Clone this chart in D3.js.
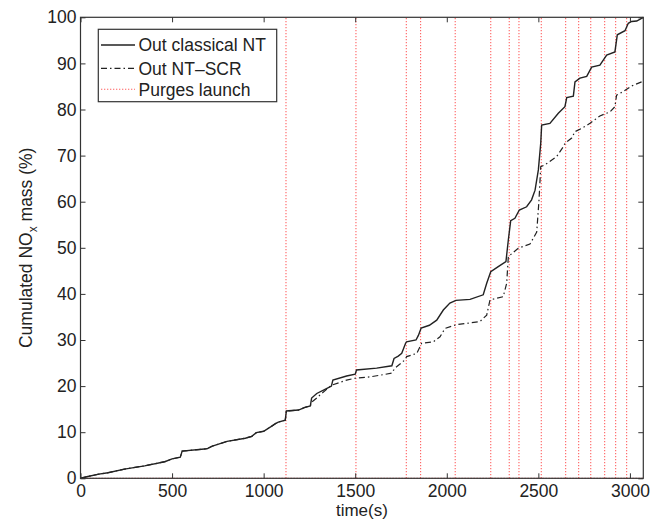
<!DOCTYPE html>
<html><head><meta charset="utf-8">
<script src="https://cdn.jsdelivr.net/npm/d3@7"></script>
<style>
body{margin:0;background:#fff;}
text{font-family:"Liberation Sans",Arial,Helvetica,sans-serif;fill:#222;}
</style></head>
<body><svg id="c" width="663" height="519"></svg>
<script>
// time (s) and cumulated NOx mass (%) — Out classical NT
const ntTime = [0,40,100,150,240,350,460,500,545,555,690,720,800,900,935,960,1000,1040,1062,1080,1118,1124,1190,1226,1255,1262,1290,1335,1370,1378,1453,1500,1507,1617,1700,1712,1735,1754,1775,1780,1832,1845,1860,1905,1945,1981,2017,2050,2127,2199,2218,2240,2281,2323,2336,2349,2372,2396,2436,2463,2482,2500,2513,2518,2563,2609,2645,2655,2691,2700,2727,2764,2791,2836,2873,2918,2931,2973,2991,3009,3037,3073];
const ntValue = [0,0.4,0.9,1.2,2.0,2.7,3.6,4.2,4.6,5.9,6.4,7.0,8.0,8.7,9.1,9.9,10.2,11.2,11.8,12.2,12.6,14.6,14.8,15.4,15.7,17.4,18.4,19.3,20.0,21.3,22.2,22.6,23.5,23.9,24.4,26.0,26.5,27.1,29.3,29.6,30.0,31.0,32.6,33.2,34.3,36.5,38.0,38.6,38.8,39.8,42.3,44.8,45.9,47.0,51.7,55.9,56.4,58.2,58.9,60.4,62.5,66.9,72.7,76.6,77.0,79.2,80.6,82.6,82.9,86.0,86.8,87.2,89.2,89.6,91.8,92.5,96.2,97.1,98.7,99.1,99.2,100];
// Out NT-SCR
const scrTime = [0,40,100,150,240,350,460,500,545,555,690,720,800,900,935,960,1000,1040,1062,1080,1118,1124,1190,1226,1255,1262,1290,1308,1371,1453,1499,1581,1699,1717,1772,1781,1836,1863,1926,1963,1990,2050,2181,2218,2236,2308,2327,2336,2390,2454,2491,2503,2513,2536,2600,2636,2646,2682,2700,2736,2782,2836,2891,2918,2927,2964,3009,3064];
const scrValue = [0,0.4,0.9,1.2,2.0,2.7,3.6,4.2,4.6,5.9,6.4,7.0,8.0,8.7,9.1,9.9,10.2,11.2,11.8,12.2,12.6,14.6,14.8,15.4,15.7,16.5,17.4,18.1,20.2,21.3,21.7,22.0,22.8,23.9,25.7,26.4,27.1,29.3,29.6,30.7,32.5,33.3,34.0,35.4,38.7,39.4,42.3,48.1,49.9,50.8,53.4,60.0,67.6,68.0,69.8,71.9,72.7,73.8,75.2,75.9,77.0,78.6,79.5,80.6,83.1,83.9,85.1,86.0];
// purge launch instants (s)
const purgeTimes = [1122,1504,1779,1857,2046,2240,2341,2394,2516,2649,2720,2786,2862,2922,2982];
const xTicks = [0,500,1000,1500,2000,2500,3000];
const yTicks = [0,10,20,30,40,50,60,70,80,90,100];
const legendLabels = ["Out classical NT","Out NT\u2013SCR","Purges launch"];

const svg = d3.select("#c");
const L=80.5, R=643.3, T=17.3, B=478.3;
const x = d3.scaleLinear().domain([0,3073]).range([L,R]);
const y = d3.scaleLinear().domain([0,100]).range([B,T]);
const fs = 17.5;

// purge lines
const red = svg.append("g").attr("stroke","#ff2020").attr("stroke-width",1.1)
  .attr("stroke-dasharray","1.3,1.7").attr("opacity",0.7);
red.selectAll("line.p").data(purgeTimes).join("line").attr("class","p")
  .attr("x1",d=>x(d)).attr("x2",d=>x(d)).attr("y1",y(0)).attr("y2",y(100));
red.append("line").attr("x1",x(0)).attr("x2",x(3073)).attr("y1",y(0)).attr("y2",y(0));

const line = d3.line().x(d=>x(d[0])).y(d=>y(d[1]));
svg.append("path").datum(d3.zip(scrTime,scrValue)).attr("d",line)
  .attr("fill","none").attr("stroke","#222").attr("stroke-width",1.2)
  .attr("stroke-dasharray","6,3,1.5,3");
svg.append("path").datum(d3.zip(ntTime,ntValue)).attr("d",line)
  .attr("fill","none").attr("stroke","#222").attr("stroke-width",1.4);

// axes with inward ticks on all sides
const ax = svg.append("g");
ax.append("g").attr("transform",`translate(0,${B})`)
  .call(d3.axisBottom(x).tickValues(xTicks).tickSize(-5).tickPadding(6).tickFormat(d3.format("d")));
ax.append("g").attr("transform",`translate(0,${T})`)
  .call(d3.axisTop(x).tickValues(xTicks).tickSize(-5).tickFormat(""));
ax.append("g").attr("transform",`translate(${L},0)`)
  .call(d3.axisLeft(y).tickValues(yTicks).tickSize(-5).tickPadding(4));
ax.append("g").attr("transform",`translate(${R},0)`)
  .call(d3.axisRight(y).tickValues(yTicks).tickSize(-5).tickFormat(""));
ax.selectAll(".domain").remove();
ax.selectAll(".tick line").attr("stroke","#333");
ax.selectAll(".tick text").attr("font-size",fs).attr("font-family","Liberation Sans, Arial, sans-serif").attr("fill","#222");
svg.append("rect").attr("x",L).attr("y",T).attr("width",R-L).attr("height",B-T)
  .attr("fill","none").attr("stroke","#333").attr("stroke-width",1.2);

// axis labels
svg.append("text").attr("x",(L+R)/2).attr("y",515.5).attr("text-anchor","middle").attr("font-size",17).text("time(s)");
const yl = svg.append("text").attr("transform",`translate(32,${(T+B)/2}) rotate(-90)`)
  .attr("text-anchor","middle").attr("font-size",fs);
yl.append("tspan").text("Cumulated NO");
yl.append("tspan").attr("font-size",12).attr("dy",5).text("x");
yl.append("tspan").attr("dy",-5).text(" mass (%)");

// legend
const lg = svg.append("g");
lg.append("rect").attr("x",98.3).attr("y",29.3).attr("width",178.4).attr("height",72.4)
  .attr("fill","#fff").attr("stroke","#333").attr("stroke-width",1.2);
const rows=[45,68.3,89.3];
const styles=[{c:"#222",d:null,w:1.4},{c:"#222",d:"6,3,1.5,3",w:1.2},{c:"#ff2020",d:"1.3,1.7",w:1.1}];
legendLabels.forEach((t,i)=>{
  const s=styles[i];
  lg.append("line").attr("x1",101).attr("x2",135).attr("y1",rows[i]).attr("y2",rows[i])
    .attr("stroke",s.c).attr("stroke-width",s.w).attr("stroke-dasharray",s.d).attr("opacity",i==2?0.7:1);
  lg.append("text").attr("x",138.5).attr("y",rows[i]+6.3).attr("font-size",fs).text(t);
});
</script></body></html>
